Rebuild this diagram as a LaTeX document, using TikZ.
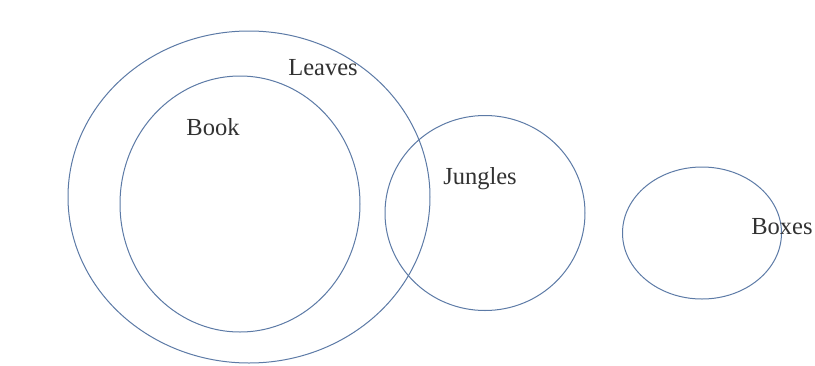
\documentclass[tikz,border=0pt]{standalone}
\usepackage{fontspec}
\setmainfont{Liberation Serif}
\usepackage{xcolor}
\usetikzlibrary{shapes.geometric,positioning}
\definecolor{setblue}{RGB}{92,122,166}
\definecolor{labelgray}{RGB}{50,50,50}

\begin{document}
\begin{tikzpicture}[x=1pt, y=-1pt, every node/.style={font=\fontsize{24.5}{26}\selectfont, text=labelgray},
    setshape/.style={ellipse, draw=setblue, line width=1pt, inner sep=0pt, outer sep=0pt}]
                \useasboundingbox[fill=white] (0,0) rectangle (815,365);

                % sets drawn as ellipses
                \node[setshape, minimum width=362pt, minimum height=332pt] (Leaves) at (249,197) {};
                \node[setshape, minimum width=240pt, minimum height=256pt] (Book) at (240,204) {};
                \node[setshape, minimum width=200pt, minimum height=195pt] (Jungles) at (485,213) {};
                \node[setshape, minimum width=159pt, minimum height=132pt] (Boxes) at (702,233) {};

                % set labels
                \node (LeavesLbl) at (323,68) {Leaves};
                \node (BookLbl) at (213,127) {Book};
                \node (JunglesLbl) at (480,179) {Jungles};
                \node (BoxesLbl) at (782,227) {Boxes};
            \end{tikzpicture}
\end{document}
